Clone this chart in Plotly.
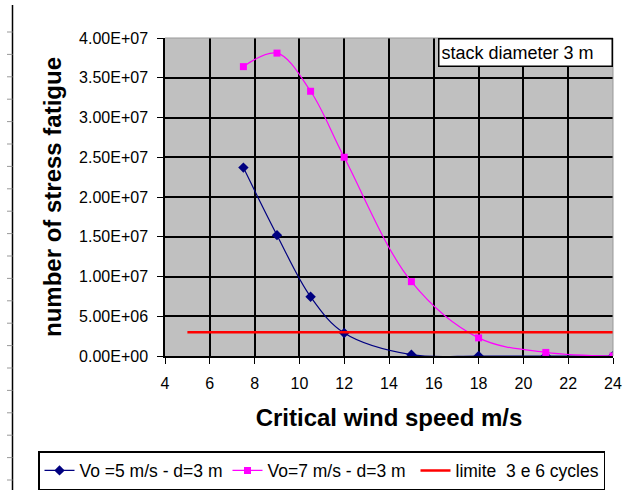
import plotly.graph_objects as go

# ---- data ----
speed = [7.5, 9, 10.5, 12, 15, 18, 21, 24]
vo5 = [2.37e7, 1.52e7, 7.45e6, 2.9e6, 1.7e5, 0, 0, 0]
vo7 = [3.64e7, 3.81e7, 3.33e7, 2.50e7, 9.35e6, 2.28e6, 4.5e5, 0]
limit_x = [5, 24]
limit_y = [3e6, 3e6]

ytickvals = [0, 5e6, 1e7, 1.5e7, 2e7, 2.5e7, 3e7, 3.5e7, 4e7]
yticktext = ["0.00E+00", "5.00E+06", "1.00E+07", "1.50E+07", "2.00E+07",
             "2.50E+07", "3.00E+07", "3.50E+07", "4.00E+07"]
xtickvals = [4, 6, 8, 10, 12, 14, 16, 18, 20, 22, 24]

W, H = 643, 490
ML, MR, MT, MB = 165, 30, 38, 134
PW, PH = W - ML - MR, H - MT - MB

def px(x):
    return (x - ML) / PW

def py(y):
    return (H - MB - y) / PH

font = "Arial, Liberation Sans, sans-serif"

fig = go.Figure()
fig.add_trace(go.Scatter(
    x=speed, y=vo5, mode="lines+markers", name="Vo =5 m/s - d=3 m",
    line=dict(color="#000080", width=1.2, shape="spline", smoothing=1),
    marker=dict(symbol="diamond", size=8, color="#000080")))
fig.add_trace(go.Scatter(
    x=speed, y=vo7, mode="lines+markers", name="Vo=7 m/s - d=3 m",
    line=dict(color="#FF00FF", width=1.2, shape="spline", smoothing=1),
    marker=dict(symbol="square", size=7, color="#FF00FF")))
fig.add_trace(go.Scatter(
    x=limit_x, y=limit_y, mode="lines", name="limite  3 e 6 cycles",
    line=dict(color="#FF0000", width=2.5)))

shapes = []
# left edge decoration (neighbouring chart border)
shapes.append(dict(type="line", xref="paper", yref="paper",
                   x0=px(12.5), x1=px(12.5), y0=py(5), y1=py(490),
                   line=dict(color="black", width=1.5)))
for i in range(21):
    yy = 32 + i * 22.4
    shapes.append(dict(type="line", xref="paper", yref="paper",
                       x0=px(7), x1=px(12.5), y0=py(yy), y1=py(yy),
                       line=dict(color="#999999", width=1)))
# right / top plot-area border
shapes.append(dict(type="line", xref="paper", yref="paper",
                   x0=1, x1=1, y0=0, y1=1, line=dict(color="#999999", width=1)))
shapes.append(dict(type="line", xref="paper", yref="paper",
                   x0=0, x1=1, y0=1, y1=1, line=dict(color="#999999", width=1)))

annotations = [
    dict(text="stack diameter 3 m", xref="paper", yref="paper",
         x=1, y=1, xanchor="right", yanchor="top", showarrow=False,
         align="left", width=168, height=22, borderpad=2,
         bgcolor="white", bordercolor="black", borderwidth=1.5,
         font=dict(size=18, family=font)),
]

fig.update_layout(
    width=W, height=H,
    margin=dict(l=ML, r=MR, t=MT, b=MB, autoexpand=False),
    paper_bgcolor="white", plot_bgcolor="#C0C0C0",
    font=dict(family=font, size=14, color="black"),
    showlegend=True,
    legend=dict(orientation="h", x=px(38), y=py(451), xanchor="left", yanchor="top",
                borderwidth=1.5, bordercolor="black", bgcolor="white",
                font=dict(size=17.5), tracegroupgap=0,
                entrywidth=143, entrywidthmode="pixels"),
    shapes=shapes,
    annotations=annotations,
)
fig.update_xaxes(range=[4, 24], tickvals=xtickvals, showgrid=True,
                 gridcolor="black", gridwidth=1.5, zeroline=False,
                 showline=True, linecolor="black", linewidth=1.5,
                 ticks="outside", ticklen=6, tickcolor="black",
                 tickfont=dict(size=16), ticklabelstandoff=6, automargin=False,
                 title=dict(text="<b>Critical wind speed m/s</b>",
                            font=dict(size=24), standoff=18))
fig.update_yaxes(range=[0, 4e7], tickvals=ytickvals, ticktext=yticktext,
                 showgrid=True, gridcolor="black", gridwidth=1.5, zeroline=False,
                 showline=True, linecolor="black", linewidth=1.5,
                 ticks="outside", ticklen=6, tickcolor="black",
                 tickfont=dict(size=16), ticklabelstandoff=6, automargin=False,
                 title=dict(text="<b>number of stress fatigue</b>",
                            font=dict(size=24), standoff=11))

fig.write_html("out.html")
